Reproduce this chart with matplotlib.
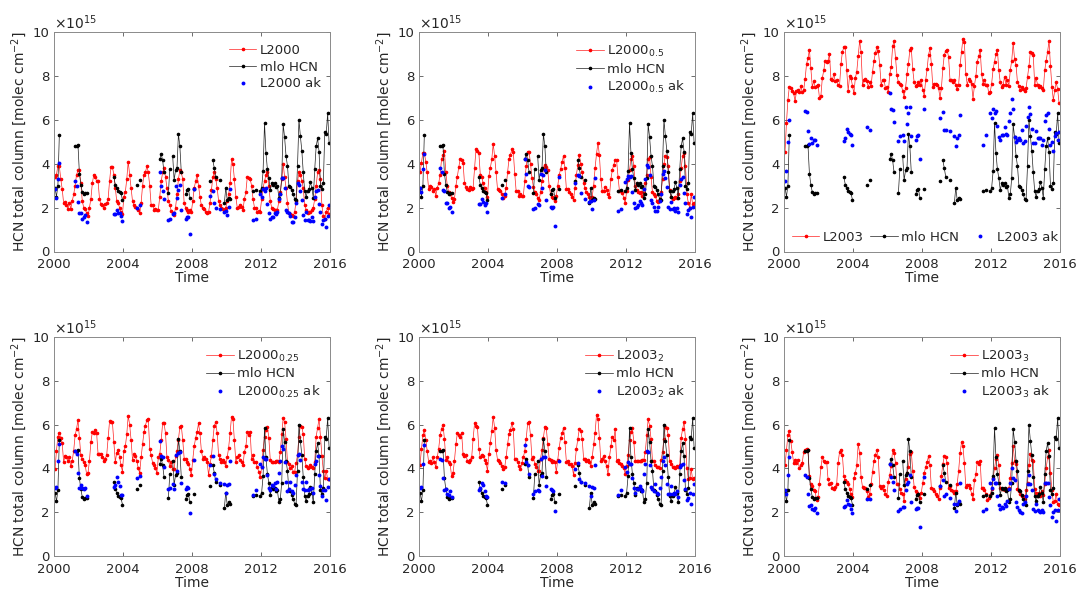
import numpy as np
import matplotlib
matplotlib.use('Agg')
import matplotlib.pyplot as plt

plt.rcParams['font.family'] = ['DejaVu Sans']
plt.rcParams['mathtext.default'] = 'regular'

# ---------------- data (units of 1e15 molec cm^-2) ----------------
start_year = 2000
n_months = 192

L2000 = [
    3.4, 3.5, 3.9, 3.9, 3.3, 2.85, 2.2, 2.25, 2.1, 1.95, 2.2, 1.95,
    2.3, 2.6, 3.0, 3.5, 3.7, 3.7, 3.1, 2.3, 2.0, 1.95, 1.75, 1.6,
    2.0, 2.4, 3.1, 3.5, 3.4, 3.2, 3.2, 2.4, 2.15, 2.1, 2.0, 2.15,
    2.2, 2.4, 3.2, 3.85, 3.85, 3.5, 2.9, 2.3, 2.2, 2.0, 1.8, 1.7,
    2.5, 2.7, 3.3, 4.1, 3.5, 2.9, 2.3, 2.1, 2.05, 2.0, 1.9, 1.75,
    2.2, 3.0, 3.5, 3.6, 3.9, 3.6, 3.0, 2.1, 2.1, 1.9, 1.95, 1.9,
    1.9, 2.5, 3.2, 3.6, 3.8, 3.4, 2.9, 2.3, 2.1, 1.85, 1.75, 1.65,
    2.0, 2.6, 3.3, 3.7, 3.6, 3.3, 2.2, 2.0, 1.9, 1.8, 1.9, 1.8,
    2.3, 2.9, 3.2, 3.5, 3.0, 2.5, 2.1, 2.0, 1.95, 1.8, 1.75, 1.8,
    2.2, 2.8, 3.4, 3.6, 3.3, 2.9, 2.3, 2.1, 2.0, 1.95, 1.9, 2.0,
    2.3, 2.6, 3.1, 4.2, 4.0, 3.3, 2.5, 2.0, 2.05, 2.1, 2.05, 1.9,
    2.4, 2.7, 3.4, 3.35, 3.3, 3.0, 2.4, 2.0, 2.0, 1.8, 1.85, 1.8,
    2.4, 2.9, 3.2, 3.5, 3.6, 3.0, 2.3, 2.0, 1.95, 1.9, 1.9, 1.9,
    2.3, 2.7, 3.3, 4.0, 3.4, 2.9, 2.2, 1.75, 1.7, 1.65, 1.6, 1.8,
    2.3, 3.2, 3.6, 3.5, 3.2, 2.9, 2.1, 1.9, 1.75, 1.8, 1.8, 1.9,
    2.0, 2.4, 3.0, 3.6, 3.7, 3.3, 2.1, 1.6, 1.5, 1.8, 2.0, 1.7,
]

L2000_05 = [
    3.6, 4.05, 4.5, 4.5, 4.1, 3.6, 2.85, 3.0, 2.95, 2.75, 2.85, 2.55,
    2.9, 3.1, 3.5, 4.2, 4.4, 4.6, 3.6, 3.0, 2.7, 2.6, 2.45, 2.25,
    2.4, 3.0, 3.4, 3.85, 4.2, 4.15, 4.05, 3.1, 2.95, 2.85, 2.8, 2.95,
    2.85, 2.9, 3.8, 4.65, 4.6, 4.5, 3.5, 3.4, 3.1, 2.9, 2.7, 2.5,
    3.45, 3.8, 4.2, 4.9, 4.35, 3.6, 2.85, 2.8, 2.75, 2.6, 2.45, 2.55,
    2.9, 3.6, 4.2, 4.4, 4.65, 4.55, 3.55, 2.75, 2.75, 2.55, 2.6, 2.55,
    2.55, 3.2, 3.9, 4.55, 4.55, 4.0, 3.35, 2.95, 2.7, 2.6, 2.45, 2.35,
    2.7, 3.2, 3.8, 3.95, 3.85, 3.7, 3.0, 2.6, 2.5, 2.45, 2.3, 2.55,
    3.0, 3.5, 3.75, 4.1, 4.35, 3.8, 2.85, 2.85, 2.7, 2.6, 2.5, 2.35,
    2.9, 3.5, 3.95, 4.4, 4.0, 3.6, 3.1, 2.9, 2.7, 2.6, 2.5, 2.45,
    2.5, 3.0, 3.8, 4.45, 4.95, 4.4, 3.3, 2.75, 2.75, 2.95, 2.8, 2.6,
    2.5, 3.3, 3.7, 3.95, 4.15, 4.15, 3.4, 2.75, 2.75, 2.65, 2.45, 2.2,
    2.75, 3.25, 3.7, 4.2, 4.35, 3.9, 3.0, 2.8, 2.7, 2.65, 2.7, 2.55,
    2.65, 3.1, 3.5, 4.2, 4.3, 3.4, 2.7, 2.6, 2.55, 2.3, 2.25, 2.4,
    2.7, 3.3, 4.0, 4.35, 4.3, 3.9, 2.8, 2.5, 2.4, 2.45, 2.5, 2.45,
    2.6, 3.2, 3.8, 4.35, 4.5, 3.9, 2.6, 2.2, 2.0, 2.6, 2.15, 2.2,
]

L2003 = [
    4.55, 5.85, 6.9, 7.5, 7.45, 7.3, 7.2, 6.85, 7.3, 7.35, 7.25, 7.55,
    7.25, 7.35, 7.85, 8.55, 8.8, 9.2, 8.35, 7.5, 7.75, 7.5, 7.55, 7.6,
    7.0, 7.1, 7.9, 8.25, 8.7, 8.65, 8.7, 9.0, 7.85, 7.8, 8.1, 7.75,
    7.8, 7.6, 7.55, 8.55, 9.1, 9.3, 9.3, 8.25, 7.3, 8.0, 7.9, 7.55,
    7.2, 7.9, 8.2, 8.9, 9.6, 9.1, 7.6, 7.8, 7.85, 7.75, 7.5, 7.7,
    7.55, 8.2, 8.7, 9.05, 9.3, 9.15, 8.5, 7.6, 7.8, 7.8, 7.45, 7.5,
    7.25, 8.1, 8.4, 9.35, 9.6, 8.8, 8.05, 7.7, 7.65, 7.6, 7.3, 7.05,
    7.45, 8.1, 8.55, 9.2, 9.25, 8.3, 7.7, 7.55, 7.6, 7.7, 7.6, 7.8,
    7.35, 7.1, 7.8, 8.3, 8.95, 9.25, 8.55, 7.5, 7.65, 7.65, 7.6, 7.45,
    7.0, 7.45, 8.35, 8.95, 9.15, 9.2, 8.85, 7.8, 7.8, 7.7, 7.8, 7.6,
    7.4, 7.6, 8.5, 9.1, 9.7, 9.55, 8.1, 7.6, 7.85, 7.75, 7.65, 6.95,
    7.55, 8.0, 8.65, 8.9, 9.2, 8.1, 7.65, 7.8, 7.6, 7.6, 7.2, 7.25,
    7.65, 8.3, 8.65, 9.0, 9.2, 8.25, 7.7, 7.5, 7.6, 7.95, 7.6, 7.8,
    7.55, 8.25, 8.7, 9.5, 8.75, 8.5, 7.7, 7.55, 7.35, 7.5, 7.4, 7.3,
    7.45, 7.95, 8.45, 9.1, 9.05, 8.95, 7.6, 7.9, 7.6, 7.5, 7.55, 7.45,
    7.35, 8.25, 8.7, 9.1, 9.6, 8.45, 7.5, 6.9, 7.35, 7.7, 7.4, 6.75,
]

L2000_025 = [
    3.95, 4.8, 5.45, 5.6, 5.4, 5.15, 4.3, 4.55, 4.5, 4.35, 4.5, 4.1,
    4.35, 4.8, 5.5, 5.8, 6.2, 5.4, 4.6, 4.45, 4.3, 4.15, 3.75, 3.8,
    4.35, 5.2, 5.65, 5.6, 5.75, 5.6, 4.65, 4.65, 4.65, 4.5, 4.35, 4.45,
    4.6, 5.4, 6.15, 6.1, 6.1, 5.2, 4.3, 4.7, 4.85, 4.5, 4.15, 3.85,
    4.8, 5.0, 5.55, 6.4, 6.0, 5.3, 4.4, 4.65, 4.55, 4.35, 4.0, 3.8,
    4.5, 5.1, 5.65, 5.95, 6.2, 6.25, 4.9, 4.6, 4.25, 4.15, 4.0, 3.8,
    4.5, 4.65, 5.3, 6.05, 6.05, 5.6, 4.5, 4.4, 4.1, 4.3, 3.95, 3.95,
    4.55, 4.8, 5.3, 5.9, 5.95, 5.3, 4.45, 4.45, 4.3, 4.2, 3.95, 3.7,
    4.4, 5.0, 5.4, 5.65, 6.05, 5.6, 4.8, 4.45, 4.5, 4.45, 4.3, 3.7,
    4.2, 4.55, 5.3, 5.95, 6.1, 5.6, 4.6, 4.45, 4.3, 4.4, 4.3, 4.1,
    4.5, 4.95, 5.6, 6.35, 6.25, 5.3, 4.3, 4.5, 4.6, 4.4, 4.3, 4.15,
    4.75, 5.0, 5.65, 5.5, 5.65, 4.45, 4.6, 4.3, 4.3, 4.05, 3.85, 3.6,
    4.05, 4.85, 5.45, 5.75, 5.9, 5.4, 4.4, 4.3, 4.3, 4.3, 4.35, 4.35,
    4.3, 4.75, 5.55, 6.3, 6.1, 5.35, 4.3, 4.2, 4.0, 4.1, 3.85, 3.85,
    4.25, 4.6, 5.45, 5.95, 5.9, 5.55, 4.45, 4.1, 4.0, 4.05, 4.15, 4.05,
    4.0, 4.3, 5.45, 5.85, 6.25, 5.45, 4.55, 3.9, 3.55, 3.9, 3.5, 3.5,
]

L2003_2 = [
    4.15, 4.9, 5.5, 5.75, 5.3, 4.8, 4.3, 4.35, 4.25, 4.5, 4.3, 4.05,
    4.5, 4.9, 5.5, 5.8, 6.0, 5.35, 4.4, 4.5, 4.3, 4.2, 3.65, 3.8,
    4.35, 5.1, 5.6, 5.5, 5.45, 5.6, 4.65, 4.55, 4.6, 4.35, 4.3, 4.4,
    4.5, 5.35, 6.05, 5.95, 5.9, 4.9, 4.5, 4.6, 4.55, 4.4, 4.25, 3.9,
    4.65, 5.15, 5.7, 6.35, 5.85, 4.85, 4.4, 4.35, 4.25, 4.1, 3.95, 4.05,
    4.5, 5.1, 5.55, 5.75, 6.05, 5.8, 4.45, 4.45, 4.3, 4.1, 3.95, 4.25,
    4.5, 4.8, 5.35, 6.05, 6.1, 5.5, 4.45, 4.5, 4.2, 4.05, 3.9, 3.9,
    4.45, 4.85, 5.4, 5.9, 5.85, 5.1, 4.45, 4.4, 4.3, 4.35, 4.3, 3.85,
    4.4, 4.95, 5.4, 5.6, 5.85, 5.2, 4.3, 4.35, 4.2, 4.2, 4.1, 3.7,
    4.25, 4.9, 5.35, 5.8, 5.7, 5.35, 4.45, 4.45, 4.35, 4.4, 4.3, 4.1,
    4.5, 5.1, 5.6, 6.45, 6.25, 5.4, 4.35, 4.45, 4.55, 4.35, 4.1, 3.75,
    4.5, 5.0, 5.45, 5.3, 5.8, 4.35, 4.4, 4.25, 4.2, 4.1, 4.0, 3.75,
    4.1, 4.6, 5.3, 5.65, 5.85, 5.2, 4.35, 4.35, 4.35, 4.35, 4.35, 4.4,
    4.4, 4.75, 5.5, 6.25, 5.95, 5.35, 4.35, 4.35, 4.15, 4.05, 4.05, 4.0,
    4.4, 4.75, 5.35, 5.9, 5.85, 5.5, 4.35, 4.2, 4.05, 4.05, 4.0, 4.1,
    4.05, 4.15, 5.4, 5.8, 6.1, 5.35, 4.0, 3.5, 3.55, 3.95, 3.5, 3.55,
]

L2003_3 = [
    4.15, 4.85, 5.5, 5.7, 5.25, 4.75, 4.25, 4.4, 4.25, 4.4, 4.0, 4.15,
    4.25, 4.75, 4.85, 4.9, 4.85, 3.65, 3.3, 3.2, 3.0, 2.95, 2.55, 2.7,
    3.3, 4.05, 4.5, 4.35, 4.3, 4.3, 3.5, 3.3, 3.35, 3.1, 3.05, 3.15,
    3.3, 4.25, 4.75, 4.85, 4.6, 3.65, 3.45, 3.4, 3.3, 3.05, 2.85, 2.7,
    3.55, 3.8, 4.15, 5.1, 4.7, 3.6, 3.15, 3.1, 3.1, 2.95, 2.7, 2.85,
    3.3, 3.85, 4.35, 4.6, 4.85, 4.5, 3.2, 3.1, 3.2, 3.0, 2.85, 2.75,
    3.4, 3.7, 4.1, 4.85, 4.7, 4.25, 3.3, 3.3, 3.05, 2.9, 2.85, 2.5,
    3.5, 3.8, 4.05, 4.65, 4.75, 3.9, 3.15, 2.95, 2.9, 2.8, 2.65, 2.9,
    3.35, 3.8, 4.05, 4.3, 4.55, 4.15, 3.1, 3.05, 2.95, 2.85, 2.75, 2.6,
    3.1, 3.65, 4.2, 4.55, 4.5, 4.25, 3.1, 3.2, 3.0, 2.95, 2.9, 2.95,
    3.3, 3.9, 4.7, 5.2, 5.0, 4.25, 3.15, 3.25, 3.25, 3.1, 2.85, 2.6,
    3.45, 3.75, 4.3, 4.2, 4.35, 3.1, 3.1, 3.0, 2.85, 2.55, 2.65, 2.8,
    3.05, 3.55, 4.0, 4.45, 4.6, 4.15, 3.1, 3.05, 3.05, 3.0, 3.05, 3.05,
    3.1, 3.55, 4.25, 5.0, 4.35, 4.2, 3.05, 2.95, 2.85, 2.75, 2.75, 2.6,
    3.0, 3.35, 4.15, 4.65, 4.4, 4.35, 3.05, 2.9, 2.75, 2.9, 2.75, 2.95,
    2.8, 3.3, 4.0, 4.5, 4.85, 3.8, 3.0, 2.45, 2.5, 2.85, 2.4, 2.35,
]

# Mauna Loa observations: month index since Jan 2000 and value
mlo_month = [
    0, 1, 2, 3,
    14, 15, 16, 17, 18, 19, 20, 21, 22,
    41, 42, 43, 44, 45, 46, 47,
    57, 59,
    73, 74, 75, 76, 79, 80, 82, 83,
    84, 85, 86, 87, 88, 91, 92, 93, 94,
    97,
    108, 110, 111, 112, 115, 118, 119,
    120, 121, 122,
    138, 140, 143,
    144, 145, 146, 147, 148, 149, 150, 151, 152, 153, 154, 155,
    156, 157, 158, 159, 160, 161, 162, 163, 164, 165, 166, 167,
    168, 169, 170, 171, 172, 173, 174, 175, 176, 177, 178, 179,
    180, 181, 182, 183, 184, 185, 186, 187, 188, 189, 190, 191,
]
mlo_hcn = [
    2.9, 2.5, 3.0, 5.3,
    4.8, 4.8, 4.85, 3.55, 3.05, 2.7, 2.6, 2.65, 2.65,
    3.4, 3.05, 2.9, 2.75, 2.7, 2.65, 2.35,
    3.05, 3.25,
    4.2, 4.45, 4.15, 3.6, 2.65, 3.75, 4.35, 3.25,
    3.7, 3.8, 5.35, 4.8, 3.6, 2.6, 2.8, 2.85, 2.45,
    2.85,
    3.2, 4.15, 3.8, 3.4, 3.25, 2.2, 2.9,
    2.35, 2.45, 2.4,
    2.75, 2.8, 2.75,
    2.9, 3.65, 5.85, 4.5, 3.75, 3.35, 2.8, 3.1, 3.05, 3.1, 2.95, 3.0,
    2.45, 2.6, 3.35, 5.8, 5.2, 4.35, 3.9, 3.0, 2.95, 2.8, 2.6, 2.4,
    2.35, 3.9, 6.0, 5.25, 4.6, 3.6, 2.75, 2.5, 2.75, 2.85, 3.15, 2.9,
    2.45, 3.75, 4.8, 5.15, 4.55, 3.0, 2.85, 3.1, 5.45, 5.35, 6.3, 4.95,
]

# smoothed with averaging kernels, at the observation months
ak_L2000 = [
    2.85, 2.45, 3.3, 4.05,
    3.2, 3.0, 2.25, 1.75, 1.75, 1.5, 1.55, 1.65, 1.35,
    1.7, 1.7, 1.9, 1.75, 1.75, 1.6, 1.4,
    2.0, 2.1,
    3.6, 3.0, 2.75, 2.4, 1.45, 1.5, 1.7, 1.75,
    3.0, 2.45, 2.8, 3.05, 1.9, 1.5, 1.55, 1.55, 0.8,
    2.85,
    2.55, 2.75, 2.2, 2.0, 1.95, 1.8, 1.85,
    1.65, 2.05, 2.85,
    1.45, 1.5, 2.6,
    2.5, 2.85, 2.75, 2.9, 2.15, 1.75, 1.5, 1.55, 1.55, 1.75, 1.7, 1.8,
    2.4, 2.6, 3.35, 3.35, 2.9, 1.9, 1.8, 1.75, 1.6, 1.35, 1.35, 1.55,
    2.2, 3.1, 3.05, 2.75, 2.35, 1.65, 1.45, 1.8, 1.45, 1.45, 1.4, 1.55,
    1.4, 2.5, 2.75, 2.8, 2.15, 1.8, 1.25, 1.45, 1.5, 1.1, 1.6, 2.1,
]
ak_L2000_05 = [
    2.9, 2.7, 3.75, 4.45,
    3.8, 3.6, 2.8, 2.75, 2.2, 2.2, 2.0, 2.05, 1.8,
    2.15, 2.15, 2.4, 2.25, 2.1, 2.2, 1.8,
    2.45, 2.6,
    4.2, 3.55, 3.0, 2.95, 1.95, 2.0, 2.15, 2.1,
    3.55, 2.9, 3.5, 3.7, 2.35, 2.05, 2.0, 2.05, 1.15,
    3.4,
    3.1, 3.5, 3.45, 2.65, 2.4, 2.25, 2.3,
    1.95, 2.35, 3.35,
    1.85, 1.95, 3.15,
    3.3, 3.45, 3.4, 3.45, 2.7, 2.2, 2.0, 2.05, 2.1, 2.3, 2.2, 2.1,
    2.85, 3.3, 3.95, 3.85, 3.5, 2.35, 2.2, 2.05, 1.85, 1.85, 2.05, 2.3,
    2.6, 3.55, 3.65, 3.35, 2.95, 2.05, 1.95, 2.25, 1.95, 2.0, 1.85, 2.0,
    1.8, 3.05, 3.3, 3.4, 2.65, 2.2, 1.7, 1.9, 2.0, 1.55, 2.05, 2.5,
]
ak_L2003 = [
    3.2, 3.65, 5.0, 6.0,
    6.4, 6.35, 5.5, 4.9, 5.15, 4.95, 5.1, 5.1, 4.85,
    5.05, 5.15, 5.6, 5.45, 5.35, 5.3, 4.85,
    5.65, 5.55,
    7.2, 6.5, 6.45, 5.9, 5.05, 5.25, 5.3, 5.05,
    6.6, 5.8, 6.3, 6.6, 5.25, 5.1, 5.25, 5.3, 4.2,
    6.5,
    6.1, 6.35, 5.55, 5.55, 5.5, 5.25, 4.8,
    5.15, 5.3, 6.2,
    4.85, 5.3, 6.3,
    6.1, 6.5, 6.3, 6.4, 5.7, 5.2, 5.1, 5.3, 5.3, 5.65, 5.35, 5.3,
    5.95, 6.3, 6.95, 6.5, 5.2, 5.0, 5.1, 5.15, 5.1, 5.55, 4.95, 5.05,
    5.7, 6.15, 6.6, 6.25, 5.6, 4.95, 4.95, 5.5, 5.15, 5.15, 5.15, 4.85,
    5.1, 5.95, 6.2, 6.3, 5.6, 4.85, 5.0, 4.6, 5.25, 5.4, 5.1, 5.45,
]
ak_L2000_025 = [
    3.1, 3.15, 4.35, 5.1,
    4.8, 4.65, 3.8, 3.1, 3.25, 3.1, 3.05, 3.1, 2.75,
    3.15, 3.25, 3.6, 3.4, 3.2, 2.8, 2.8,
    3.55, 3.65,
    5.25, 4.55, 4.5, 4.05, 3.05, 3.1, 3.3, 3.05,
    4.6, 3.9, 4.7, 4.75, 3.35, 3.05, 3.15, 3.1, 1.95,
    4.4,
    4.15, 4.55, 3.75, 3.5, 3.35, 3.3, 2.9,
    3.25, 3.3, 4.35,
    2.8, 3.0, 4.2,
    4.05, 4.5, 4.45, 4.45, 3.7, 3.1, 3.0, 3.25, 3.2, 3.35, 3.05, 3.4,
    3.8, 4.35, 5.0, 4.9, 4.3, 3.4, 2.95, 3.05, 3.4, 2.95, 2.9, 3.25,
    3.7, 4.6, 4.65, 4.4, 3.4, 3.05, 3.0, 3.4, 3.0, 3.05, 3.05, 3.1,
    2.9, 4.2, 4.35, 4.55, 3.7, 3.2, 2.75, 3.0, 3.0, 2.55, 3.15, 3.5,
]
ak_L2003_2 = [
    3.1, 3.15, 4.2, 5.05,
    4.45, 4.4, 3.55, 3.0, 3.05, 2.85, 2.8, 2.95, 2.7,
    3.0, 3.1, 3.35, 3.25, 2.95, 2.75, 2.7,
    3.4, 3.35,
    5.05, 4.3, 4.15, 3.75, 2.85, 2.95, 3.0, 2.95,
    4.45, 3.65, 4.5, 4.5, 3.2, 3.05, 3.0, 2.95, 2.05,
    4.35,
    3.95, 4.25, 3.5, 3.4, 3.35, 3.2, 2.75,
    3.15, 3.1, 4.15,
    2.8, 3.0, 4.05,
    3.85, 4.3, 4.2, 4.2, 3.55, 3.1, 2.9, 3.05, 3.05, 3.2, 3.05, 2.95,
    3.75, 4.2, 4.8, 4.75, 4.15, 3.15, 3.05, 2.95, 3.3, 2.9, 2.85, 3.1,
    3.6, 4.35, 4.5, 4.15, 3.3, 2.85, 2.85, 3.2, 2.85, 2.9, 2.85, 2.95,
    2.7, 4.05, 4.15, 4.2, 3.45, 3.05, 2.55, 2.65, 2.9, 2.4, 2.85, 3.3,
]
ak_L2003_3 = [
    3.0, 2.85, 3.7, 4.5,
    3.7, 3.6, 2.85, 2.3, 2.35, 2.15, 2.1, 2.2, 1.95,
    2.25, 2.3, 2.55, 2.4, 2.35, 2.15, 1.95,
    2.6, 2.6,
    4.2, 3.6, 3.4, 3.0, 2.05, 2.15, 2.25, 2.25,
    3.0, 3.3, 3.4, 3.7, 2.45, 2.15, 2.2, 2.2, 1.35,
    3.6,
    3.2, 3.45, 2.75, 2.85, 2.65, 2.4, 2.05,
    2.4, 2.5, 3.35,
    2.05, 2.15, 3.35,
    3.1, 3.5, 3.35, 3.35, 2.75, 2.35, 2.15, 2.25, 2.2, 2.4, 2.3, 2.5,
    3.05, 3.35, 4.0, 3.55, 3.45, 2.45, 2.25, 2.1, 2.0, 1.95, 2.4, 2.45,
    2.75, 3.3, 3.7, 3.3, 3.0, 2.15, 2.05, 2.4, 2.1, 2.05, 2.0, 2.1,
    2.0, 3.35, 3.35, 3.35, 2.7, 2.35, 1.8, 2.0, 2.1, 1.6, 2.1, 2.6,
]

model_names = ['L2000', 'L2000$_{0.5}$', 'L2003',
               'L2000$_{0.25}$', 'L2003$_2$', 'L2003$_3$']
model_series = [L2000, L2000_05, L2003, L2000_025, L2003_2, L2003_3]
ak_series = [ak_L2000, ak_L2000_05, ak_L2003, ak_L2000_025, ak_L2003_2, ak_L2003_3]

x_ticks = [2000, 2004, 2008, 2012, 2016]
y_ticks = [0, 2, 4, 6, 8, 10]

# ---------------- figure ----------------
W, H = 1079, 593
fig = plt.figure(figsize=(W / 100, H / 100), dpi=100)

t_all = start_year + (np.arange(n_months) + 0.5) / 12.0
mlo_full = np.full(n_months, np.nan)
mlo_full[np.array(mlo_month)] = mlo_hcn
t_obs = start_year + (np.array(mlo_month) + 0.5) / 12.0

lefts = [54.3, 419.3, 784.3]
tops = [32.0, 336.7]
aw, ah = 275.5, 219.5
tc = '#262626'
for i in range(6):
    r, c = divmod(i, 3)
    ax = fig.add_axes([lefts[c] / W, 1 - (tops[r] + ah) / H, aw / W, ah / H])
    ax.plot(t_all, model_series[i], '-', color='#ff2020', lw=0.5, marker='o',
            ms=1.6, mec='#ff0000', mfc='#ff0000', label=model_names[i])
    ax.plot(t_all, mlo_full, '-', color='#202020', lw=0.5, marker='o', ms=1.6,
            mec='black', mfc='black', label='mlo HCN')
    ax.plot(t_obs, ak_series[i], 'o', color='#0000ff', ms=2.8, mew=0,
            label=model_names[i] + ' ak')
    ax.set_xlim(2000, 2016)
    ax.set_ylim(0, 10)
    ax.set_xticks(x_ticks)
    ax.set_yticks(y_ticks)
    ax.tick_params(direction='in', length=3, width=0.6, colors='#555555',
                   labelcolor=tc, labelsize=9.5, top=True, right=True)
    ax.tick_params(axis='x', pad=5)
    ax.tick_params(axis='y', pad=3.5)
    for s in ax.spines.values():
        s.set_color('#8a8a8a')
        s.set_linewidth(0.7)
    ax.set_xlabel('Time', fontsize=10, color=tc, labelpad=0)
    ax.set_ylabel('HCN total column [molec cm$^{-2}$]', fontsize=10,
                  color=tc, labelpad=2.5)
    ax.text(0.0, 1.0, r'$\times10^{15}$', transform=ax.transAxes,
            fontsize=10, color=tc, ha='left', va='bottom')
    if i == 2:
        leg = ax.legend(loc='lower center', ncol=3, frameon=False,
                        fontsize=9.5, handlelength=2.1, columnspacing=0.5,
                        handletextpad=0.25, borderpad=0.3,
                        bbox_to_anchor=(0.51, -0.012))
    else:
        leg = ax.legend(loc='upper right', frameon=False, fontsize=9.5,
                        handlelength=2.1, handletextpad=0.25, labelspacing=0.28,
                        borderpad=0.4, bbox_to_anchor=(1.01, 1.0))
    for txt in leg.get_texts():
        txt.set_color(tc)

fig.savefig('out.png', dpi=100)
